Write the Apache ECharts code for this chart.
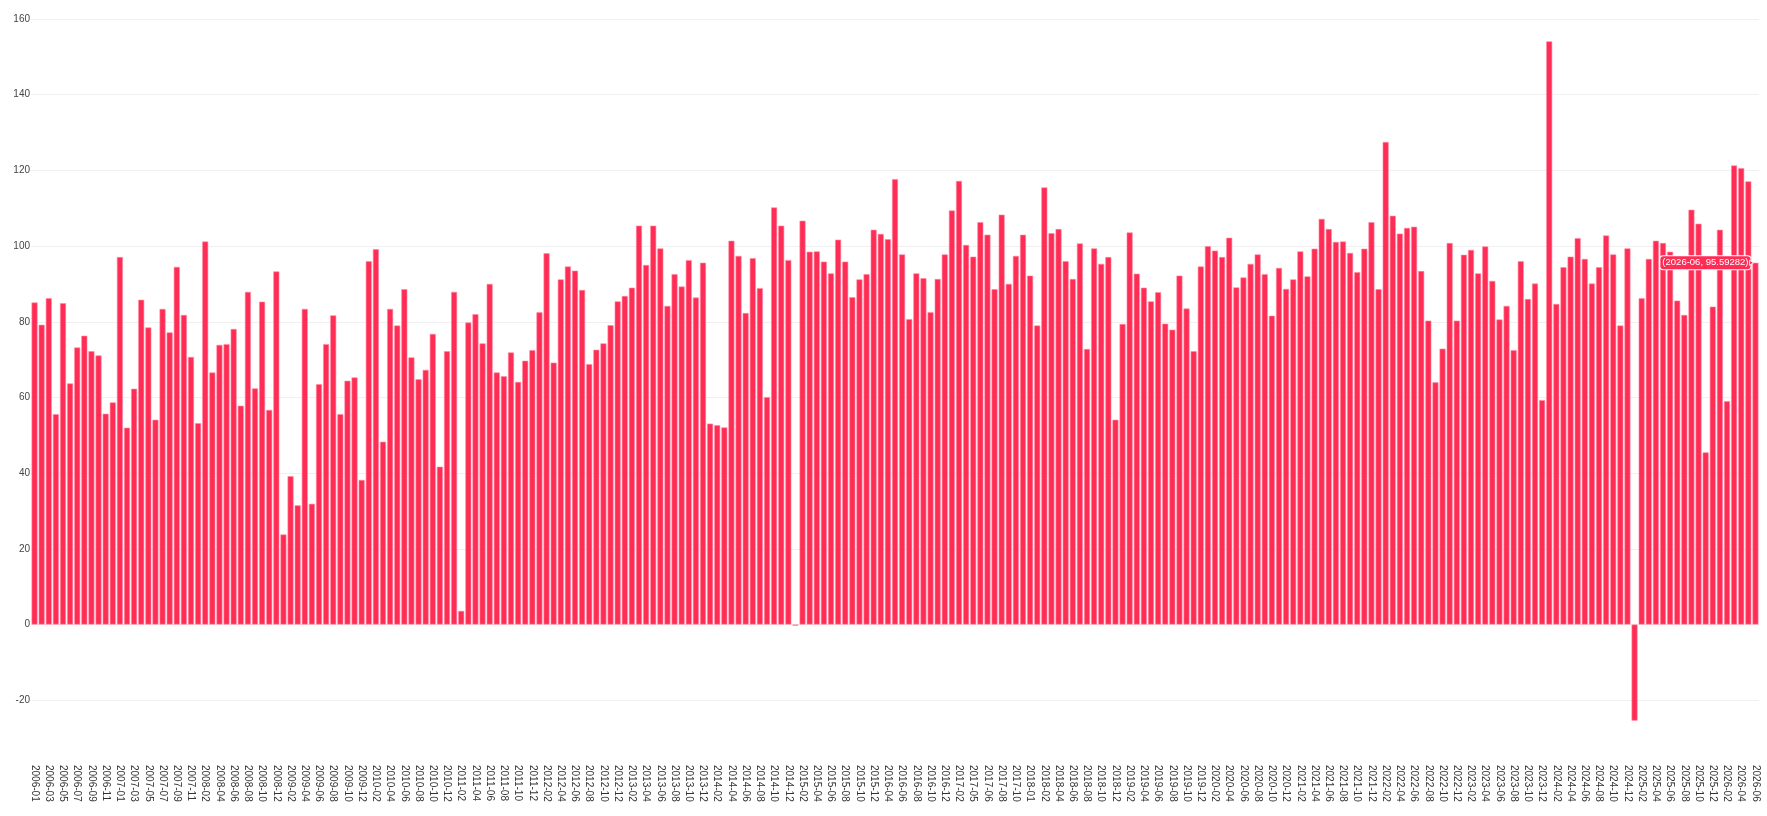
<!DOCTYPE html>
<html>
<head>
<meta charset="utf-8">
<script src="https://cdn.jsdelivr.net/npm/echarts@6/dist/echarts.min.js"></script>
<style>
  html, body { margin: 0; padding: 0; background: #ffffff; }
  #chart { width: 1767px; height: 816px; }
</style>
</head>
<body>
<div id="chart"></div>
<script>
var categories = [
  "2006-01","2006-02","2006-03","2006-04","2006-05","2006-06","2006-07","2006-08","2006-09","2006-10","2006-11","2006-12",
  "2007-01","2007-02","2007-03","2007-04","2007-05","2007-06","2007-07","2007-08","2007-09","2007-10","2007-11","2007-12",
  "2008-02","2008-03","2008-04","2008-05","2008-06","2008-07","2008-08","2008-09","2008-10","2008-11","2008-12",
  "2009-01","2009-02","2009-03","2009-04","2009-05","2009-06","2009-07","2009-08","2009-09","2009-10","2009-11","2009-12",
  "2010-01","2010-02","2010-03","2010-04","2010-05","2010-06","2010-07","2010-08","2010-09","2010-10","2010-11","2010-12",
  "2011-01","2011-02","2011-03","2011-04","2011-05","2011-06","2011-07","2011-08","2011-09","2011-10","2011-11","2011-12",
  "2012-01","2012-02","2012-03","2012-04","2012-05","2012-06","2012-07","2012-08","2012-09","2012-10","2012-11","2012-12",
  "2013-01","2013-02","2013-03","2013-04","2013-05","2013-06","2013-07","2013-08","2013-09","2013-10","2013-11","2013-12",
  "2014-01","2014-02","2014-03","2014-04","2014-05","2014-06","2014-07","2014-08","2014-09","2014-10","2014-11","2014-12",
  "2015-01","2015-02","2015-03","2015-04","2015-05","2015-06","2015-07","2015-08","2015-09","2015-10","2015-11","2015-12",
  "2016-02","2016-04","2016-05","2016-06","2016-07","2016-08","2016-09","2016-10","2016-11","2016-12",
  "2017-01","2017-02","2017-03","2017-05","2017-05","2017-06","2017-07","2017-08","2017-09","2017-10","2017-12",
  "2018-01","2018-01","2018-02","2018-03","2018-04","2018-05","2018-06","2018-07","2018-08","2018-09","2018-10","2018-11","2018-12",
  "2019-01","2019-02","2019-03","2019-04","2019-05","2019-06","2019-07","2019-08","2019-09","2019-10","2019-11","2019-12",
  "2020-01","2020-02","2020-03","2020-04","2020-05","2020-06","2020-07","2020-08","2020-09","2020-10","2020-11","2020-12",
  "2021-01","2021-02","2021-03","2021-04","2021-05","2021-06","2021-07","2021-08","2021-09","2021-10","2021-11","2021-12",
  "2022-01","2022-02","2022-03","2022-04","2022-05","2022-06","2022-07","2022-08","2022-09","2022-10","2022-11","2022-12",
  "2023-01","2023-02","2023-03","2023-04","2023-05","2023-06","2023-07","2023-08","2023-09","2023-10","2023-11","2023-12",
  "2024-01","2024-02","2024-03","2024-04","2024-05","2024-06","2024-07","2024-08","2024-09","2024-10","2024-11","2024-12",
  "2025-01","2025-02","2025-03","2025-04","2025-05","2025-06","2025-07","2025-08","2025-09","2025-10","2025-11","2025-12",
  "2026-01","2026-02","2026-03","2026-04","2026-05","2026-06"
];

var values = [
  85.1, 79.2, 86.2, 55.6, 84.9, 63.7, 73.2, 76.3, 72.2, 71.1, 55.7, 58.7, 97.1, 52.0, 62.3, 85.8, 78.5, 54.1, 83.4, 77.2, 94.5,
  81.8, 70.7, 53.2, 101.2, 66.6, 73.9, 74.1, 78.1, 57.8, 87.9, 62.4, 85.3, 56.7, 93.3, 23.8, 39.2, 31.5, 83.4, 31.9, 63.5, 74.1, 81.7, 55.6,
  64.4, 65.3, 38.2, 96.0, 99.2, 48.3, 83.4, 79.0, 88.6, 70.6, 64.8, 67.3, 76.8, 41.7, 72.2, 87.9, 3.6, 79.8, 82.0, 74.3, 90.0, 66.6,
  65.6, 71.9, 64.1, 69.7, 72.5, 82.5, 98.1, 69.2, 91.2, 94.6, 93.5, 88.4, 68.8, 72.6, 74.3, 79.1, 85.4, 86.8, 89.0, 105.4, 95.0, 105.4, 99.4,
  84.2, 92.6, 89.3, 96.3, 86.4, 95.6, 53.1, 52.7, 52.1, 101.4, 97.4, 82.3, 96.8, 88.9, 60.1, 110.2, 105.4, 96.3, -0.3, 106.7, 98.5, 98.6,
  95.9, 92.8, 101.7, 95.9, 86.5, 91.2, 92.6, 104.3, 103.2, 101.8, 117.7, 97.8, 80.7, 92.8, 91.5, 82.5, 91.3, 97.8, 109.4, 117.2, 100.3, 97.2, 106.3,
  103.0, 88.6, 108.3, 90.0, 97.4, 103.0, 92.2, 79.0, 115.5, 103.4, 104.5, 96.0, 91.3, 100.7, 72.8, 99.4, 95.3, 97.1, 54.1, 79.4, 103.6, 92.7,
  89.0, 85.4, 87.8, 79.5, 77.9, 92.2, 83.5, 72.2, 94.6, 100.0, 98.8, 97.1, 102.2, 89.1, 91.7, 95.3, 97.8, 92.6, 81.6, 94.2, 88.7, 91.2, 98.6,
  92.0, 99.3, 107.2, 104.5, 101.1, 101.2, 98.2, 93.1, 99.3, 106.3, 88.6, 127.5, 108.0, 103.3, 104.8, 105.1, 93.4, 80.3, 64.0, 72.9, 100.8, 80.3,
  97.7, 99.0, 92.8, 99.9, 90.8, 80.6, 84.2, 72.5, 96.0, 86.0, 90.1, 59.3, 154.1, 84.7, 94.4, 97.2, 102.1, 96.6, 90.1, 94.4, 102.8, 97.8, 79.0,
  99.4, -25.4, 86.2, 96.6, 101.4, 100.8, 98.5, 85.6, 81.8, 109.6, 105.9, 45.5, 84.0, 104.3, 59.0, 121.3, 120.6, 117.1, 95.59282
];

var yMin = -35;
var yMax = 160;

var lastIndex = values.length - 1;
var barColor = '#ff2d55';

var seriesData = values.map(function (v, i) {
  if (i === lastIndex) {
    return {
      value: v,
      label: {
        show: true,
        position: [-2, 0],
        align: 'right',
        verticalAlign: 'middle',
        formatter: '(' + categories[i] + ', ' + v + ')',
        color: '#ffffff',
        fontSize: 9.5,
        fontFamily: 'Liberation Sans, Arial, sans-serif',
        backgroundColor: barColor,
        borderColor: '#ffffff',
        borderWidth: 1,
        borderRadius: 3,
        padding: [2, 2, 1, 2]
      }
    };
  }
  return v;
});

var chart = echarts.init(document.getElementById('chart'), null, { renderer: 'canvas' });
chart.setOption({
  animation: false,
  backgroundColor: '#ffffff',
  textStyle: { fontFamily: 'Liberation Sans, Arial, sans-serif' },
  grid: { left: 31, right: 8, top: 19, bottom: 59, containLabel: false },
  xAxis: {
    type: 'category',
    data: categories,
    axisLine: { show: false, onZero: false },
    axisTick: { show: false },
    axisLabel: {
      interval: 1,
      rotate: -90,
      margin: 8,
      fontSize: 10,
      color: '#333333'
    },
    splitLine: { show: false }
  },
  yAxis: {
    type: 'value',
    min: yMin,
    max: yMax,
    splitNumber: 10,
    axisLine: { show: false },
    axisTick: { show: false },
    axisLabel: {
      fontSize: 10,
      color: '#444444',
      margin: 1,
      showMinLabel: false
    },
    splitLine: { showMinLine: false, lineStyle: { color: '#f0f0f0', width: 1 } }
  },
  series: [{
    type: 'bar',
    data: seriesData,
    barCategoryGap: '16%',
    itemStyle: {
      color: barColor,
      borderColor: '#ff8aa1',
      borderWidth: 0.6
    },
    markPoint: {
      silent: true,
      symbol: 'triangle',
      symbolSize: [5, 4],
      symbolRotate: -90,
      symbolOffset: [-4, 0],
      label: { show: false },
      itemStyle: { color: barColor, borderColor: '#ffffff', borderWidth: 0.8 },
      data: [{ coord: [lastIndex, values[lastIndex]] }]
    }
  }]
});
</script>
</body>
</html>
